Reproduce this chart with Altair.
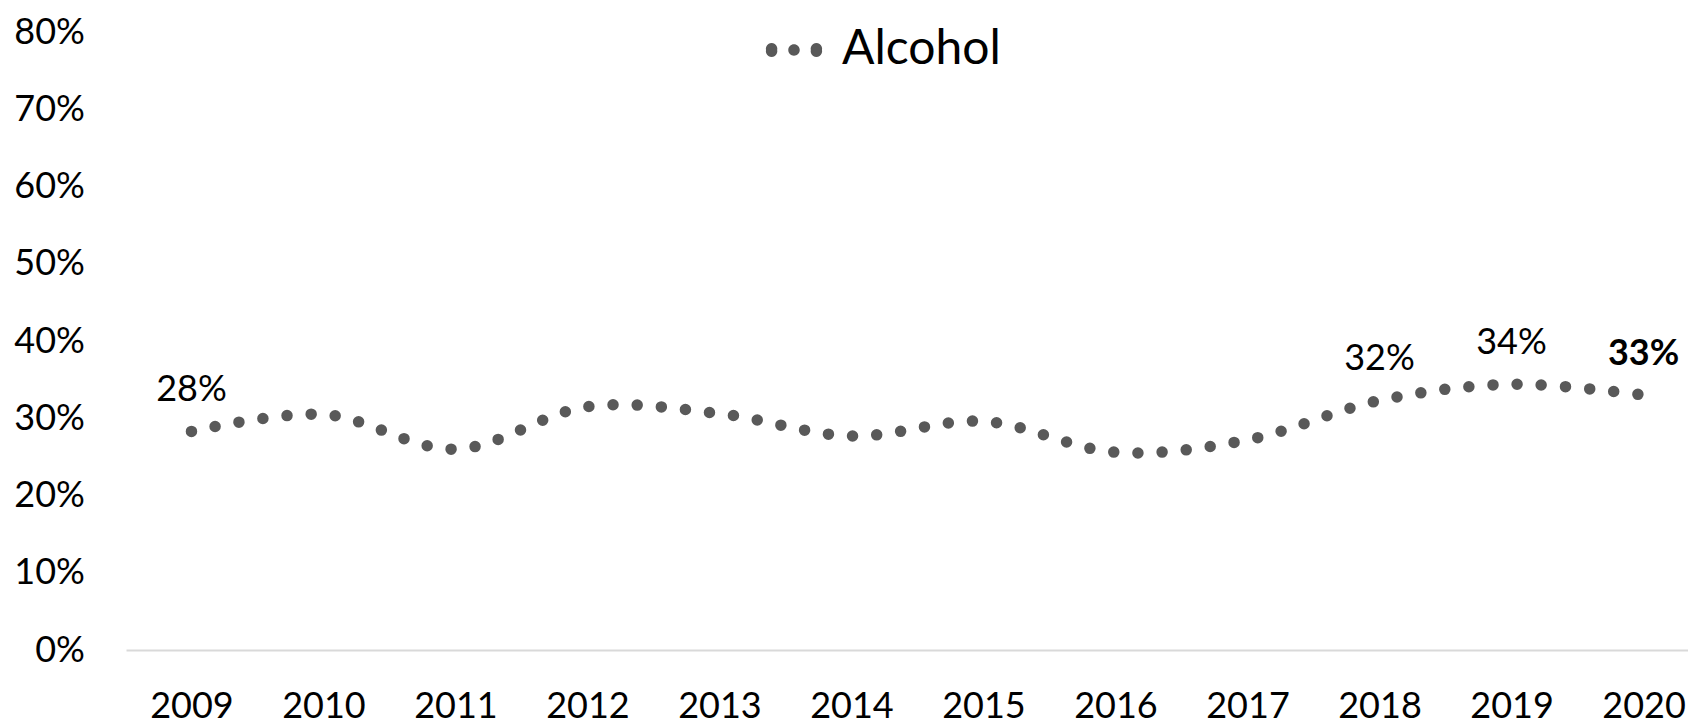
import altair as alt
import pandas as pd

years = [2009, 2010, 2011, 2012, 2013, 2014, 2015, 2016, 2017, 2018, 2019, 2020]
values = [0.283, 0.305, 0.260, 0.315, 0.306, 0.277, 0.296, 0.256, 0.272, 0.323, 0.344, 0.330]
series_name = "Alcohol"
label_years = [2009, 2018, 2019]
bold_label_years = [2020]
y_ticks = [0, 0.1, 0.2, 0.3, 0.4, 0.5, 0.6, 0.7, 0.8]

df = pd.DataFrame({"year": years, "value": values, "series": [series_name] * len(years)})

FONT = "Lato"
GRAY = "#595959"

dots_path = (
    "M -0.6,0 A 0.205,0.205 0 1,1 -1.0,0 A 0.205,0.205 0 1,1 -0.6,0 Z "
    "M 0.205,0 A 0.205,0.205 0 1,1 -0.205,0 A 0.205,0.205 0 1,1 0.205,0 Z "
    "M 1.0,0 A 0.205,0.205 0 1,1 0.6,0 A 0.205,0.205 0 1,1 1.0,0 Z"
)

x_enc = alt.X(
    "year:Q",
    scale=alt.Scale(domain=[2008.504, 2020.337], nice=False, zero=False),
    axis=alt.Axis(
        values=years, format="d", ticks=False, grid=False,
        domainColor="#d9d9d9", domainWidth=2,
        labelFont=FONT, labelFontSize=36, labelColor="black",
        labelPadding=56, labelBaseline="middle", labelFlush=False,
        labelOverlap=False, title=None,
    ),
)
y_enc = alt.Y(
    "value:Q",
    scale=alt.Scale(domain=[0, 0.8], nice=False),
    axis=alt.Axis(
        values=y_ticks, format=".0%", ticks=False, grid=False, domain=False,
        labelFont=FONT, labelFontSize=36, labelColor="black",
        labelPadding=41.6, title=None,
    ),
)

line = alt.Chart(df).mark_line(
    interpolate="catmull-rom", strokeDash=[0, 24.2], strokeCap="round", strokeWidth=11.5
).encode(
    x=x_enc,
    y=y_enc,
    color=alt.Color(
        "series:N",
        scale=alt.Scale(domain=[series_name], range=[GRAY]),
        legend=alt.Legend(
            title=None, orient="none", legendX=640, legendY=-10,
            symbolType=dots_path, symbolSize=3136, symbolFillColor=GRAY,
            symbolStrokeWidth=0, symbolOpacity=1,
            labelFont=FONT, labelFontSize=48, labelColor="black",
            labelOffset=20, padding=0, labelLimit=400,
        ),
    ),
)

labels = alt.Chart(df).transform_filter(
    alt.FieldOneOfPredicate(field="year", oneOf=label_years)
).mark_text(dy=-41, font=FONT, fontSize=36, color="black").encode(
    x="year:Q", y="value:Q", text=alt.Text("value:Q", format=".0%")
)

bold_labels = alt.Chart(df).transform_filter(
    alt.FieldOneOfPredicate(field="year", oneOf=bold_label_years)
).mark_text(dy=-41, font=FONT, fontSize=36, fontWeight="bold", color="black").encode(
    x="year:Q", y="value:Q", text=alt.Text("value:Q", format=".0%")
)

chart = alt.layer(line, labels, bold_labels).properties(
    width=1562, height=618,
    autosize=alt.AutoSizeParams(type="none"),
    padding={"left": 118, "top": 24, "right": 0, "bottom": 78},
).configure_view(stroke=None)

chart.save("out.html", embed_options={"renderer": "svg", "actions": False})
